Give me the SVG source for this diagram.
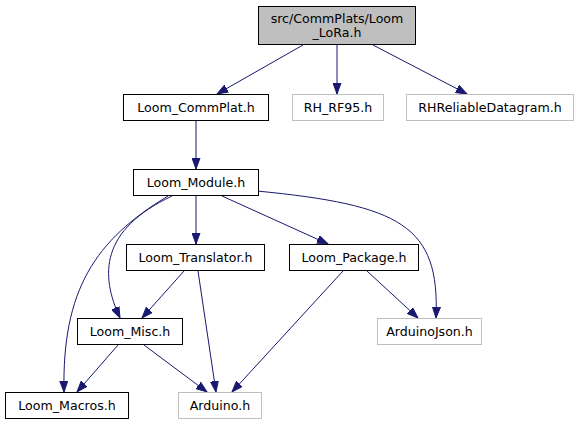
<svg xmlns="http://www.w3.org/2000/svg" width="577" height="425" viewBox="0 0 577 425">
<style>
.n rect{fill:#fff;stroke:#000;stroke-width:1}
.n.g rect{stroke:#bfbfbf}
.n.top rect{fill:#bfbfbf}
.n text{font-family:"DejaVu Sans",sans-serif;font-size:12.6px;text-anchor:middle;fill:#000}
.e path{fill:none;stroke:#191970;stroke-width:1;marker-end:url(#ah)}
</style>
<defs>
<marker id="ah" markerUnits="userSpaceOnUse" markerWidth="12" markerHeight="9" refX="11" refY="4.5" orient="auto">
<path d="M0,0.5 L11,4.5 L0,8.5 z" fill="#191970" stroke="#191970"/>
</marker>
</defs>
<rect width="577" height="425" fill="#fff"/>
<g id="edges" class="e">
<path d="M303,45 L217,94"/>
<path d="M337,45 L337,94"/>
<path d="M373,45 L467,94"/>
<path d="M196,121 L196,169"/>
<path d="M196,196 L196,244"/>
<path d="M222,196 L328,244"/>
<path d="M257,191 C400,205 440,225 436,318"/>
<path d="M172,196 C100,230 100,275 120,318"/>
<path d="M168,196 C95,240 62,290 64,392"/>
<path d="M184,271 L142,318"/>
<path d="M198,271 L216,392"/>
<path d="M118,345 L77,392"/>
<path d="M144,345 L207,392"/>
<path d="M343,271 L232,392"/>
<path d="M367,271 L418,318"/>
</g>
<g id="loom_lora" class="n top"><rect x="258.5" y="6.5" width="157" height="38"/><text x="337" y="23">src/CommPlats/Loom</text><text x="337" y="37">_LoRa.h</text></g>
<g id="loom_commplat" class="n"><rect x="123.5" y="94.5" width="145" height="26"/><text x="196" y="112">Loom_CommPlat.h</text></g>
<g id="rh_rf95" class="n g"><rect x="292.5" y="94.5" width="91" height="26"/><text x="338" y="112">RH_RF95.h</text></g>
<g id="rhreliable" class="n g"><rect x="406.5" y="94.5" width="167" height="26"/><text x="490" y="112">RHReliableDatagram.h</text></g>
<g id="loom_module" class="n"><rect x="133.5" y="169.5" width="125" height="26"/><text x="196" y="187">Loom_Module.h</text></g>
<g id="loom_translator" class="n"><rect x="126.5" y="244.5" width="138" height="26"/><text x="195.5" y="262">Loom_Translator.h</text></g>
<g id="loom_package" class="n"><rect x="289.5" y="244.5" width="129" height="26"/><text x="354" y="262">Loom_Package.h</text></g>
<g id="loom_misc" class="n"><rect x="77.5" y="318.5" width="105" height="26"/><text x="130" y="336">Loom_Misc.h</text></g>
<g id="arduinojson" class="n g"><rect x="377.5" y="318.5" width="104" height="26"/><text x="429.5" y="336">ArduinoJson.h</text></g>
<g id="loom_macros" class="n"><rect x="5.5" y="392.5" width="123" height="26"/><text x="67" y="410">Loom_Macros.h</text></g>
<g id="arduino" class="n g"><rect x="178.5" y="392.5" width="83" height="26"/><text x="220" y="410">Arduino.h</text></g>
</svg>
